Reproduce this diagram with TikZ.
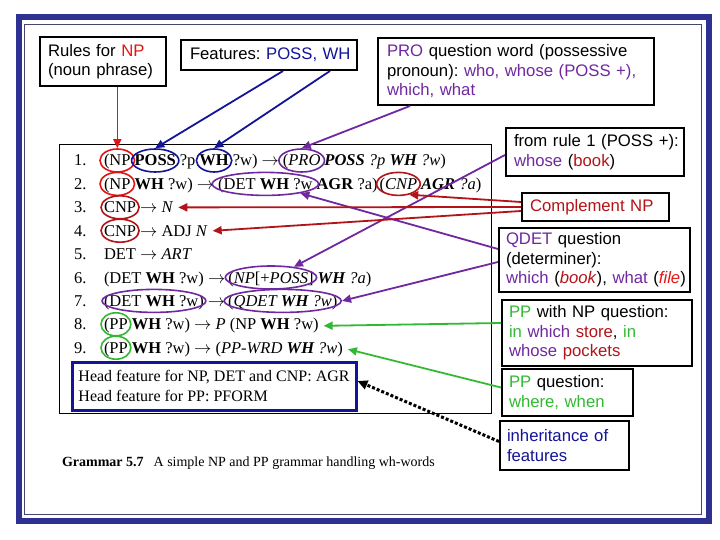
\documentclass[tikz,border=0pt]{standalone}
\usepackage{fontspec}
\setmainfont{Liberation Sans}
\newfontfamily\gram{Liberation Serif}
\usetikzlibrary{shapes.geometric,arrows.meta,calc}
\definecolor{framebl}{RGB}{46,49,146}
\definecolor{innerfr}{RGB}{70,70,110}
\definecolor{brred}{RGB}{228,20,20}
\definecolor{dred}{RGB}{178,20,24}
\definecolor{navy}{RGB}{20,20,150}
\definecolor{purp}{RGB}{112,40,160}
\definecolor{grn}{RGB}{50,185,50}
\frenchspacing
\newcommand{\ringit}[4]{\path let \p1=(#2.west), \p2=(#2.east), \n1={\x2-\x1+#4} in node[ov, draw=#3, minimum width=\n1] (#1) at ([yshift=5.5pt]#2.base) {};}
\newcommand{\oneline}[1]{\mbox{#1}}
\tikzset{
 g/.style={inner sep=0pt, outer sep=0pt, anchor=base west, font=\gram\fontsize{16.5}{20}\selectfont},
 ov/.style={ellipse, draw, line width=1.6pt, inner sep=0pt, minimum height=23pt},
 cbox/.style={draw=black, line width=2pt, fill=white, inner sep=0pt, align=left, font=\fontsize{16.7}{19.5}\selectfont},
 conn/.style={line width=1.8pt, -{Triangle[length=9pt,width=8pt]}},
}
\begin{document}
\begin{tikzpicture}[x=1pt,y=-1pt]
\fill[white] (0,0) rectangle (720,540);
\useasboundingbox (0,0) rectangle (720,540);
% frames
\draw[framebl, line width=6pt] (19,17) rectangle (708.5,520.5);
\draw[innerfr, line width=1pt] (24.5,25) rectangle (701,514);
% grammar box
\draw[black, line width=0.8pt] (59.5,144) rectangle (491,413);
% line 1
\node[g] (n1) at (74,166) {1.};
\node[g] (l1a) at (104,166) {(NP};
\node[g] (l1b) at ([xshift=4pt]l1a.base east) {\textbf{POSS}};
\node[g] (l1c) at ([xshift=4pt]l1b.base east) {?p};
\node[g] (l1d) at ([xshift=4pt]l1c.base east) {\textbf{WH}};
\node[g] (l1e) at ([xshift=4pt]l1d.base east) {?w) $\rightarrow$};
\node[g] (l1f) at ([xshift=4pt]l1e.base east) {(\textit{PRO}};
\node[g] (l1g) at ([xshift=4pt]l1f.base east) {\textit{\textbf{POSS} ?p \textbf{WH} ?w})};
% line 2
\node[g] (n2) at (74,189.4) {2.};
\node[g] (l2a) at (104,189.4) {(NP};
\node[g] (l2b) at ([xshift=4pt]l2a.base east) {\textbf{WH} ?w) $\rightarrow$};
\node[g] (l2c) at ([xshift=4pt]l2b.base east) {(DET \textbf{WH} ?w};
\node[g] (l2d) at ([xshift=4pt]l2c.base east) {\textbf{AGR} ?a)};
\node[g] (l2e) at ([xshift=2pt]l2d.base east) {(\textit{CNP}};
\node[g] (l2f) at ([xshift=4pt]l2e.base east) {\textit{\textbf{AGR} ?a})};
% line 3
\node[g] (n3) at (74,212.8) {3.};
\node[g] (l3a) at (104,212.8) {CNP};
\node[g] (l3b) at ([xshift=4pt]l3a.base east) {$\rightarrow$ \textit{N}};
% line 4
\node[g] (n4) at (74,236.2) {4.};
\node[g] (l4a) at (104,236.2) {CNP};
\node[g] (l4b) at ([xshift=4pt]l4a.base east) {$\rightarrow$ ADJ \textit{N}};
% line 5
\node[g] (n5) at (74,259.6) {5.};
\node[g] (l5a) at (104,259.6) {DET $\rightarrow$ \textit{ART}};
% line 6
\node[g] (n6) at (74,283) {6.};
\node[g] (l6a) at (104,283) {(DET \textbf{WH} ?w) $\rightarrow$};
\node[g] (l6b) at ([xshift=3pt]l6a.base east) {(\textit{NP}[+\textit{POSS}]};
\node[g] (l6c) at ([xshift=4pt]l6b.base east) {\textit{\textbf{WH} ?a})};
% line 7
\node[g] (n7) at (74,306.4) {7.};
\node[g] (l7a) at (104,306.4) {(DET \textbf{WH} ?w)};
\node[g] (l7b) at ([xshift=4pt]l7a.base east) {$\rightarrow$};
\node[g] (l7c) at ([xshift=3pt]l7b.base east) {(\textit{QDET \textbf{WH} ?w})};
% line 8
\node[g] (n8) at (74,329.8) {8.};
\node[g] (l8a) at (104,329.8) {(PP};
\node[g] (l8b) at ([xshift=4pt]l8a.base east) {\textbf{WH} ?w) $\rightarrow$ \textit{P} (NP \textbf{WH} ?w)};
% line 9
\node[g] (n9) at (74,353.2) {9.};
\node[g] (l9a) at (104,353.2) {(PP};
\node[g] (l9b) at ([xshift=4pt]l9a.base east) {\textbf{WH} ?w) $\rightarrow$ (\textit{PP-WRD \textbf{WH} ?w})};
% head feature box
\node[draw=navy, line width=3pt, minimum width=284pt, minimum height=48pt, inner sep=0pt, align=left, font=\gram\fontsize{16}{20}\selectfont] (head) at (214,386) {Head feature for NP, DET and CNP: AGR\\Head feature for PP: PFORM};
% caption
\node[g, font=\gram\fontsize{14}{16}\selectfont] (cap) at (62,466) {\textbf{Grammar 5.7}\hspace{10pt}A simple NP and PP grammar handling wh-words};
% ellipses
\ringit{eNP1}{l1a}{brred}{8pt}
\ringit{ePOSS}{l1b}{navy}{6pt}
\ringit{eWH}{l1d}{navy}{6pt}
\ringit{ePRO}{l1f}{purp}{8pt}
\ringit{eNP2}{l2a}{brred}{8pt}
\ringit{eDET2}{l2c}{purp}{12pt}
\ringit{eCNP2}{l2e}{dred}{6pt}
\ringit{eCNP3}{l3a}{dred}{6pt}
\ringit{eCNP4}{l4a}{dred}{6pt}
\ringit{eNPP}{l6b}{purp}{6pt}
\ringit{eDET7}{l7a}{purp}{4pt}
\ringit{eQDET}{l7c}{purp}{8pt}
\ringit{ePP8}{l8a}{grn}{6pt}
\ringit{ePP9}{l9a}{grn}{6pt}
% callout boxes
\node[cbox, minimum width=126pt, minimum height=49pt, text width=110pt] (box1) at (103,61.5) {Rules for \textcolor{brred}{NP}\\(noun phrase)};
\node[cbox, minimum width=176pt, minimum height=30pt, text width=158pt] (box2) at (269,55) {\oneline{Features: \textcolor{navy}{POSS, WH}}};
\node[cbox, minimum width=276pt, minimum height=67pt, text width=258pt] (box3) at (516,71.5) {\oneline{\textcolor{purp}{PRO} question word (possessive}\\\oneline{pronoun): \textcolor{purp}{who, whose (POSS +),}}\\\textcolor{purp}{which, what}};
\node[cbox, minimum width=178pt, minimum height=48pt, text width=162pt] (rule1) at (595,152) {\oneline{from rule 1 (POSS +):}\\\textcolor{purp}{whose} (\textcolor{dred}{book})};
\node[cbox, minimum width=147pt, minimum height=28pt, text width=131pt] (compl) at (595.5,207) {\textcolor{dred}{Complement NP}};
\node[cbox, minimum width=191pt, minimum height=64pt, text width=177pt] (qdet) at (594.5,260) {\textcolor{purp}{QDET} question\\(determiner):\\\oneline{\textcolor{purp}{which} (\textcolor{dred}{\textit{book}}), \textcolor{purp}{what} (\textcolor{brred}{\textit{file}})}};
\node[cbox, minimum width=190pt, minimum height=66pt, text width=176pt] (ppnp) at (597,333) {\oneline{\textcolor{grn}{PP} with NP question:}\\\oneline{\textcolor{grn}{in} \textcolor{purp}{which} \textcolor{dred}{store}, \textcolor{grn}{in}}\\\textcolor{purp}{whose} \textcolor{dred}{pockets}};
\node[cbox, minimum width=131pt, minimum height=47pt, text width=117pt] (ppq) at (567.5,392.5) {\textcolor{grn}{PP} question:\\\textcolor{grn}{where, when}};
\node[cbox, minimum width=129pt, minimum height=49pt, text width=115pt, text=navy] (inher) at (564.5,445.5) {inheritance of\\features};
% connectors
\draw[conn, brred, line width=1.5pt] (box1.south -| eNP1.north) -- (eNP1.north);
\draw[conn, navy] ([xshift=14pt]box2.south) -- (ePOSS.north);
\draw[conn, navy] ([xshift=61pt]box2.south) -- (eWH.north);
\draw[conn, purp] ([xshift=-106pt]box3.south) -- (ePRO.north);
\draw[conn, purp] ([yshift=-3pt]rule1.west) -- (eNPP.25);
\draw[conn, purp] ([yshift=11pt]qdet.west) -- (eDET2.-15);
\draw[conn, purp] ([yshift=-2pt]qdet.west) -- (eQDET.east);
\draw[conn, dred] ([yshift=5pt]compl.west) -- (eCNP2.-45);
\draw[conn, dred] (compl.west) -- ([xshift=5pt]l3b.east);
\draw[conn, dred] ([yshift=-4pt]compl.west) -- ([xshift=5pt]l4b.east);
\draw[conn, grn] ([yshift=10pt]ppnp.west) -- ([xshift=5pt]l8b.east);
\draw[conn, grn] ([yshift=5pt]ppq.west) -- ([xshift=5pt]l9b.east);
\draw[line width=3pt, dotted, -{Triangle[length=10pt,width=9pt]}] ([yshift=4pt]inher.west) -- ([yshift=5pt]head.east);
\end{tikzpicture}
\end{document}
